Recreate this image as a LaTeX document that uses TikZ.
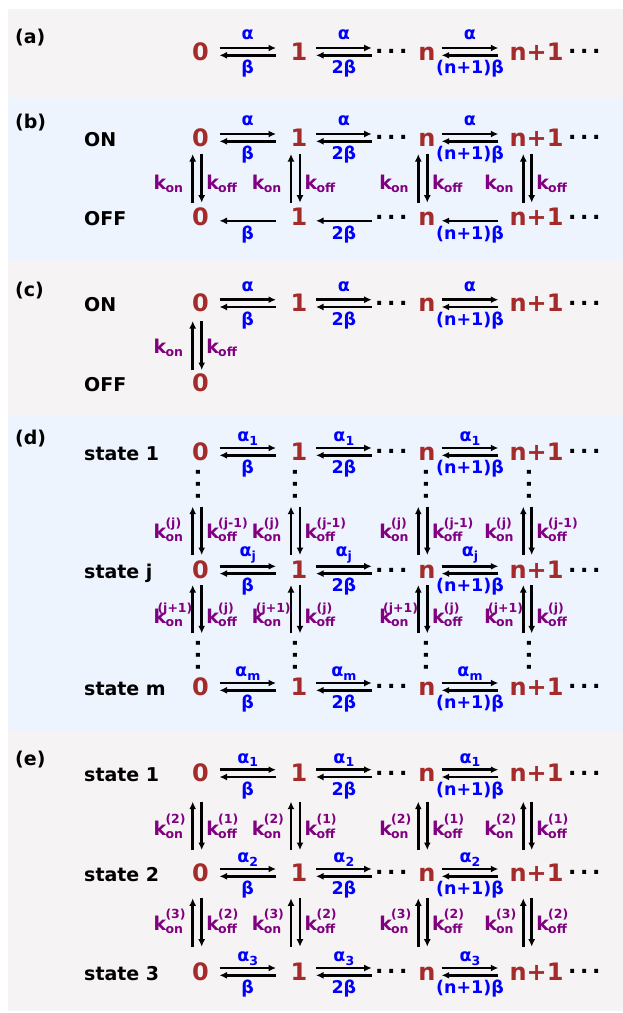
\documentclass[tikz,border=0pt]{standalone}
\usepackage{fontspec}
\setmainfont{DejaVu Sans}
\usetikzlibrary{calc,arrows.meta}
\definecolor{numred}{HTML}{A52A2A}
\definecolor{rateblue}{HTML}{0000FF}
\definecolor{kpurple}{HTML}{800080}
\definecolor{bggray}{HTML}{F6F3F4}
\definecolor{bgblue}{HTML}{EDF4FD}
\newcommand\fnum{\fontsize{24}{24}\selectfont\bfseries}
\newcommand\frate{\fontsize{17.5}{17.5}\selectfont\bfseries}
\newcommand\fsmall{\fontsize{12.5}{12.5}\selectfont\bfseries}
\newcommand\fk{\fontsize{19}{19}\selectfont\bfseries}
\newcommand\flab{\fontsize{19}{19}\selectfont\bfseries}
\newcommand\fpan{\fontsize{19}{19}\selectfont\bfseries}
\newcommand\fdots{\fontsize{22}{22}\selectfont\bfseries}
\newcommand\asub[1]{α\raisebox{-3.4pt}{\fsmall #1}}
\newcommand\kk[3][0pt]{k\kern-0.8pt{\fsmall\setbox0=\hbox{\raisebox{-3pt}{#2}}\setbox2=\hbox{\raisebox{11.3pt}{#3}}\rlap{\kern#1\box2}\box0}}
\newcommand\tdots{\raisebox{6.1pt}{.\kern3.6pt.\kern3.6pt.}}
% number row
\newcommand\numrow[2]{%
  \node[num] (#1z) at (200.5,#2) {0};
  \node[num] (#1o) at (299,#2) {1};
  \node[dotsh] (#1d) at (375,#2) {\tdots};
  \node[num] (#1n) at (427,#2) {n};
  \node[num] (#1m) at (536.5,#2) {n+1};
  \node[dotsh] (#1e) at (568,#2) {\tdots};}
% forward/backward pair
\newcommand\fwd[8]{%
  \draw[arr] ($(#1)+(#2,-12)$) -- node[rate, yshift=#6]{#5} ($(#3)+(#4,-12)$);
  \draw[arr] ($(#3)+(#4,-4.7)$) -- node[rate, yshift=#8]{#7} ($(#1)+(#2,-4.7)$);}
\newcommand\back[5]{%
  \draw[arr] ($(#3)+(#4,-4.7)$) -- node[rate, yshift=-18.2]{#5} ($(#1)+(#2,-4.7)$);}
\newcommand\chain[3]{%
  \fwd{#1z.base}{19}{#1o.base}{-23}{#2}{#3}{β}{-18.2}
  \fwd{#1o.base}{17}{#1d.base west}{-3.3}{#2}{#3}{2β}{-18.2}
  \fwd{#1n.base}{14.7}{#1m.base}{-38.2}{#2}{#3}{(n+1)β}{-18.2}}
% vertical pair
\newcommand\vud[9]{%
  \draw[arr] ($(#2.base)+(#3,#6)$) -- ($(#1.base)+(#3,#5)$);
  \draw[arr] ($(#1.base)+(#4,#5)$) -- ($(#2.base)+(#4,#6)$);
  \node[kl, anchor=base east] at ($(#1.base)+(#3-9.5,#7)$) {#8};
  \node[kl, anchor=base west] at ($(#1.base)+(#4+4.5,#7)$) {#9};}
\newcommand\vcols[7]{%
  \vud{#1z}{#2z}{-7.8}{1.2}{#3}{#4}{#5}{#6}{#7}
  \vud{#1o}{#2o}{-8}{1}{#3}{#4}{#5}{#6}{#7}
  \vud{#1n}{#2n}{-8.7}{0.3}{#3}{#4}{#5}{#6}{#7}
  \vud{#1m}{#2m}{-13.2}{-4.8}{#3}{#4}{#5}{#6}{#7}}
\newcommand\vdotcols[2]{%
  \node[vdot] at ($(#1z.base)+(-2.2,#2)$) {.\kern3.6pt.\kern3.6pt.};
  \node[vdot] at ($(#1o.base)+(-4,#2)$) {.\kern3.6pt.\kern3.6pt.};
  \node[vdot] at ($(#1n.base)+(-1,#2)$) {.\kern3.6pt.\kern3.6pt.};
  \node[vdot] at ($(#1m.base)+(-7.5,#2)$) {.\kern3.6pt.\kern3.6pt.};}
\begin{document}
\begin{tikzpicture}[x=1pt,y=-1pt,
  num/.style={font=\fnum, text=numred, inner sep=0pt, anchor=base},
  dotsh/.style={font=\fdots, inner sep=0pt, anchor=base west},
  vdot/.style={font=\fdots, inner sep=0pt, anchor=center, rotate=90},
  rate/.style={font=\frate, text=rateblue, inner sep=0pt, anchor=base},
  kl/.style={font=\fk, text=kpurple, inner sep=0pt},
  lab/.style={font=\flab, inner sep=0pt, anchor=base west},
  pan/.style={font=\fpan, inner sep=0pt, anchor=base west},
  arr/.style={line width=2.6pt, -{Latex[length=7.5pt,width=7pt]}}]
\useasboundingbox (0,0) rectangle (623,1013);
\fill[bggray] (7.5,9) rectangle (623,96.7);
\fill[bgblue] (7.5,96.7) rectangle (623,259);
\fill[bggray] (7.5,259) rectangle (623,415);
\fill[bgblue] (7.5,415) rectangle (623,731.7);
\fill[bggray] (7.5,731.7) rectangle (623,1011);
% (a)
\node[pan] (pa) at (15,43) {(a)};
\numrow{a}{60}
\chain{a}{α}{8.7}
% (b)
\node[pan] (pb) at (15,128.7) {(b)};
\node[lab] (lbon) at (84,146) {ON};
\node[lab] (lboff) at (84,225.5) {OFF};
\numrow{b}{146}
\chain{b}{α}{8.7}
\numrow{f}{225.5}
\back{fz.base}{19}{fo.base}{-23}{β}
\back{fo.base}{17}{fd.base west}{-3.3}{2β}
\back{fn.base}{14.7}{fm.base}{-38.2}{(n+1)β}
\vcols{b}{f}{8}{-22.8}{43.4}{\kk{on}{}}{\kk{off}{}}
% (c)
\node[pan] (pc) at (15,296.3) {(c)};
\node[lab] (lcon) at (84,311.7) {ON};
\node[lab] (lcoff) at (84,391.7) {OFF};
\numrow{c}{311.7}
\chain{c}{α}{8.7}
\node[num] (gz) at (200.5,391.7) {0};
\vud{cz}{gz}{-7.8}{1.2}{9.3}{-21.7}{42}{\kk{on}{}}{\kk{off}{}}
% (d)
\node[pan] (pd) at (15,444.7) {(d)};
\node[lab] (ld1) at (84,460) {state 1};
\node[lab] (ldj) at (84,578.3) {state j};
\node[lab] (ldm) at (84,695) {state m};
\numrow{d}{460}
\chain{d}{\asub{1}}{6.4}
\numrow{j}{578.3}
\chain{j}{\asub{j}}{9.6}
\numrow{k}{695}
\chain{k}{\asub{m}}{6.4}
\vdotcols{d}{24}
\vdotcols{k}{-39.5}
\vcols{d}{j}{46.7}{-23.3}{78.3}{\kk{on}{(j)}}{\kk{off}{(j-1)}}
\vcols{j}{k}{6.7}{-61.7}{45}{\kk[-8pt]{on}{(j+1)}}{\kk{off}{(j)}}
% (e)
\node[pan] (pe) at (15,765.3) {(e)};
\node[lab] (le1) at (84,781.7) {state 1};
\node[lab] (le2) at (84,881) {state 2};
\node[lab] (le3) at (84,980) {state 3};
\numrow{e}{781.7}
\chain{e}{\asub{1}}{6.4}
\numrow{s}{881}
\chain{s}{\asub{2}}{6.4}
\numrow{t}{980}
\chain{t}{\asub{3}}{6.4}
\vcols{e}{s}{20}{-31}{53.3}{\kk{on}{(2)}}{\kk{off}{(1)}}
\vcols{s}{t}{17.3}{-33.3}{49}{\kk{on}{(3)}}{\kk{off}{(2)}}
\end{tikzpicture}
\end{document}
